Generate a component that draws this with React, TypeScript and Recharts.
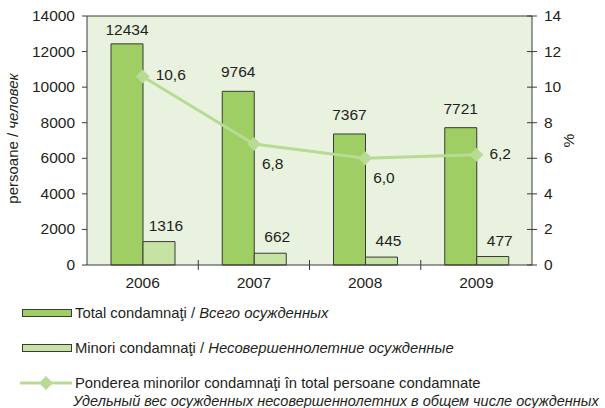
import React from 'react';
import {
  ComposedChart,
  Bar,
  Line,
  XAxis,
  YAxis,
  CartesianGrid,
  ReferenceLine,
  LabelList,
} from 'recharts';

const years = ['2006', '2007', '2008', '2009'];
const totalConvicted = [12434, 9764, 7367, 7721];
const minorsConvicted = [1316, 662, 445, 477];
const minorsShare = [10.6, 6.8, 6.0, 6.2];
const leftTicks = [0, 2000, 4000, 6000, 8000, 10000, 12000, 14000];
const rightTicks = [0, 2, 4, 6, 8, 10, 12, 14];
const shareLabelSide = ['right', 'below', 'below', 'right'];

const data = years.map((y, i) => ({
  year: y,
  total: totalConvicted[i],
  minors: minorsConvicted[i],
  share: minorsShare[i],
}));

const W = 605;
const H = 300;
const LEFT_W = 87;
const RIGHT_W = 73;
const TOP = 16;
const X_H = 35;
const FS = 15.5;
const FONT = '"Liberation Sans", Arial, Helvetica, sans-serif';
const TEXT = '#231f20';
const AXIS = '#3a3a3a';
const C_TOTAL = '#9fce64';
const C_MINOR = '#c7e3a4';
const C_LINE = '#b7db93';
const C_BG = '#e9f2df';
const halfBand = (W - LEFT_W - RIGHT_W) / years.length / 2;

const XTick = (props: any) => {
  const { x, y, payload, index } = props;
  return (
    <g>
      <text x={x} y={y + 23} textAnchor="middle" fontSize={FS} fill={TEXT} fontFamily={FONT}>
        {payload.value}
      </text>
      {index < years.length - 1 && (
        <line x1={x + halfBand} x2={x + halfBand} y1={y - 5} y2={y + 5} stroke={AXIS} strokeWidth={1} />
      )}
    </g>
  );
};

const LeftTick = (props: any) => {
  const { x, y, payload } = props;
  return (
    <g>
      <line x1={x - 5} x2={x} y1={y} y2={y} stroke={AXIS} />
      <text x={x - 12} y={y + 5} textAnchor="end" fontSize={FS} fill={TEXT} fontFamily={FONT}>
        {payload.value}
      </text>
    </g>
  );
};

const RightTick = (props: any) => {
  const { x, y, payload } = props;
  return (
    <g>
      <line x1={x - 5} x2={x + 5} y1={y} y2={y} stroke={AXIS} />
      <text x={x + 12} y={y + 5} textAnchor="start" fontSize={FS} fill={TEXT} fontFamily={FONT}>
        {payload.value}
      </text>
    </g>
  );
};

const TotalLabel = (props: any) => {
  const { x, y, width, value } = props;
  const ty = Math.max(y - 14, 35);
  return (
    <text x={x + width / 2} y={ty} textAnchor="middle" fontSize={FS} fill={TEXT} fontFamily={FONT}>
      {value}
    </text>
  );
};

const MinorLabel = (props: any) => {
  const { x, y, width, value } = props;
  return (
    <text x={x + width / 2 + 7} y={y - 11} textAnchor="middle" fontSize={FS} fill={TEXT} fontFamily={FONT}>
      {value}
    </text>
  );
};

const ShareLabel = (props: any) => {
  const { x, y, value, index } = props;
  const side = shareLabelSide[index];
  const tx = side === 'right' ? x + 13 : x + 8;
  const ty = side === 'right' ? y + 4 : y + 25;
  return (
    <text x={tx} y={ty} textAnchor="start" fontSize={FS} fill={TEXT} fontFamily={FONT}>
      {Number(value).toFixed(1).replace('.', ',')}
    </text>
  );
};

const Diamond = (props: any) => {
  const { cx, cy } = props;
  if (cx == null || cy == null) return null;
  const r = 7;
  return (
    <polygon
      points={`${cx},${cy - r} ${cx + r},${cy} ${cx},${cy + r} ${cx - r},${cy}`}
      fill={C_LINE}
      stroke="none"
    />
  );
};

const LeftTitle = (props: any) => {
  const { viewBox } = props;
  const cy = viewBox.y + viewBox.height / 2 - 2;
  const cx = 18;
  return (
    <text
      x={cx}
      y={cy}
      transform={`rotate(-90 ${cx} ${cy})`}
      textAnchor="middle"
      fontSize={15}
      fill={TEXT}
      fontFamily={FONT}
    >
      <tspan>persoane / </tspan>
      <tspan fontStyle="italic">человек</tspan>
    </text>
  );
};

const RightTitle = (props: any) => {
  const { viewBox } = props;
  const cy = viewBox.y + viewBox.height / 2;
  const cx = 574;
  return (
    <text
      x={cx}
      y={cy}
      transform={`rotate(-90 ${cx} ${cy})`}
      textAnchor="middle"
      fontSize={15.5}
      fill={TEXT}
      fontFamily={FONT}
    >
      %
    </text>
  );
};

const legendText: React.CSSProperties = {
  fontSize: 14.8,
  color: TEXT,
  fontFamily: FONT,
  whiteSpace: 'nowrap',
};

export default function App() {
  return (
    <div
      style={{
        position: 'absolute',
        left: 0,
        top: 0,
        width: W,
        height: 408,
        background: '#ffffff',
        fontFamily: FONT,
        overflow: 'hidden',
      }}
    >
      <ComposedChart
        width={W}
        height={H}
        data={data}
        margin={{ top: TOP, right: 0, left: 0, bottom: 0 }}
        barGap={0}
      >
        <CartesianGrid yAxisId="left" horizontal={false} vertical={false} fill={C_BG} fillOpacity={1} />
        <XAxis
          dataKey="year"
          height={X_H}
          tick={<XTick />}
          tickLine={false}
          tickSize={0}
          tickMargin={0}
          axisLine={{ stroke: AXIS }}
          interval={0}
        />
        <YAxis
          yAxisId="left"
          width={LEFT_W}
          domain={[0, 14000]}
          ticks={leftTicks}
          tick={<LeftTick />}
          tickLine={false}
          tickSize={0}
          tickMargin={0}
          axisLine={{ stroke: AXIS }}
          interval={0}
          label={<LeftTitle />}
        />
        <YAxis
          yAxisId="right"
          orientation="right"
          width={RIGHT_W}
          domain={[0, 14]}
          ticks={rightTicks}
          tick={<RightTick />}
          tickLine={false}
          tickSize={0}
          tickMargin={0}
          axisLine={{ stroke: AXIS }}
          interval={0}
          label={<RightTitle />}
        />
        <ReferenceLine yAxisId="left" y={14000} stroke={AXIS} />
        <Bar yAxisId="left" dataKey="total" fill={C_TOTAL} stroke={AXIS} strokeWidth={1} barSize={32} isAnimationActive={false}>
          <LabelList dataKey="total" content={<TotalLabel />} />
        </Bar>
        <Bar yAxisId="left" dataKey="minors" fill={C_MINOR} stroke={AXIS} strokeWidth={1} barSize={32} isAnimationActive={false}>
          <LabelList dataKey="minors" content={<MinorLabel />} />
        </Bar>
        <Line
          yAxisId="right"
          type="linear"
          dataKey="share"
          stroke={C_LINE}
          strokeWidth={3}
          dot={<Diamond />}
          activeDot={false}
          isAnimationActive={false}
        >
          <LabelList dataKey="share" content={<ShareLabel />} />
        </Line>
      </ComposedChart>

      <div style={{ position: 'absolute', left: 22, top: 304, display: 'flex', alignItems: 'center', height: 18 }}>
        <div style={{ width: 48, height: 6, background: C_TOTAL, border: `1px solid ${AXIS}`, marginRight: 3 }} />
        <span style={legendText}>
          Total condamnaţi / <i>Всего осужденных</i>
        </span>
      </div>
      <div style={{ position: 'absolute', left: 22, top: 339, display: 'flex', alignItems: 'center', height: 18 }}>
        <div style={{ width: 48, height: 6, background: C_MINOR, border: `1px solid ${AXIS}`, marginRight: 3 }} />
        <span style={legendText}>
          Minori condamnaţi / <i>Несовершеннолетние осужденные</i>
        </span>
      </div>
      <div style={{ position: 'absolute', left: 20, top: 374, height: 18, display: 'flex', alignItems: 'center' }}>
        <svg width={52} height={18} style={{ marginRight: 3 }}>
          <line x1={0} x2={52} y1={9} y2={9} stroke={C_LINE} strokeWidth={3} />
          <polygon points="26,2 33,9 26,16 19,9" fill={C_LINE} />
        </svg>
        <span style={legendText}>Ponderea minorilor condamnaţi în total persoane condamnate</span>
      </div>
      <div style={{ position: 'absolute', left: 73, top: 392, height: 18, display: 'flex', alignItems: 'center' }}>
        <span style={{ ...legendText, fontSize: 14.5 }}>
          <i>Удельный вес осужденных несовершеннолетних в общем числе осужденных</i>
        </span>
      </div>
    </div>
  );
}
